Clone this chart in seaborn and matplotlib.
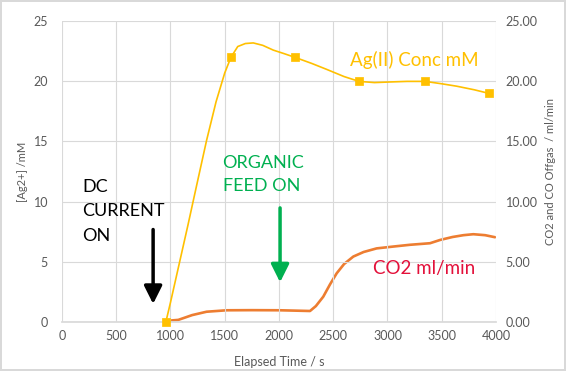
import pandas as pd
import seaborn as sns
import matplotlib.pyplot as plt

# Ag(II) sampled points (markers)
ag_time = [958, 1557, 2147, 2737, 3345, 3935]
ag_conc = [0.0, 22.0, 22.0, 20.0, 20.0, 19.0]

# Ag(II) smoothed line
ag_line_time = [958, 1000, 1080, 1160, 1240, 1333, 1420, 1500, 1557, 1620, 1690, 1763, 1850, 1948, 2050, 2147,
                2300, 2439, 2600, 2737, 2880, 3023, 3180, 3345, 3500, 3637, 3800, 3935]
ag_line_conc = [0.0, 1.6, 4.8, 8.0, 11.3, 15.1, 18.3, 20.7, 22.0, 22.9, 23.15, 23.2, 23.0, 22.6, 22.3, 22.0,
                21.5, 21.0, 20.4, 20.0, 19.9, 19.95, 20.0, 20.0, 19.8, 19.6, 19.3, 19.0]

# CO2 offgas, ml/min
co2_time = [950, 1072, 1200, 1333, 1518, 1750, 2008, 2150, 2286, 2340, 2408, 2470, 2532, 2600, 2685, 2780,
            2900, 3050, 3207, 3392, 3484, 3600, 3700, 3791, 3900, 3991]
co2_flow = [0.06, 0.15, 0.55, 0.83, 0.95, 0.96, 0.95, 0.92, 0.89, 1.3, 2.08, 3.1, 4.03, 4.8, 5.42, 5.8,
            6.1, 6.25, 6.4, 6.53, 6.8, 7.05, 7.2, 7.28, 7.2, 7.03]

x_ticks = [0, 500, 1000, 1500, 2000, 2500, 3000, 3500, 4000]
y_ticks = [0, 5, 10, 15, 20, 25]

ag_color = '#FFC000'
co2_color = '#ED7D31'
txt_gray = '#595959'
grid_gray = '#D9D9D9'

sns.set_theme(style='white')
plt.rcParams['font.family'] = ['Lato', 'DejaVu Sans']

df_pts = pd.DataFrame({'t': ag_time, 'ag': ag_conc})
df_line = pd.DataFrame({'t': ag_line_time, 'ag': ag_line_conc})
df_co2 = pd.DataFrame({'t': co2_time, 'co2': co2_flow})

fig = plt.figure(figsize=(5.66, 3.71), dpi=100)
fig.patch.set_edgecolor('#D9D9D9')
fig.patch.set_linewidth(1.5)
ax = fig.add_axes([0.1095, 0.1329, 0.7668, 0.8097])
ax2 = ax.twinx()

# CO2 on secondary axis (drawn beneath)
sns.lineplot(data=df_co2, x='t', y='co2', ax=ax2, color=co2_color, linewidth=1.9)
sns.lineplot(data=df_line, x='t', y='ag', ax=ax, color=ag_color, linewidth=1.2)
sns.scatterplot(data=df_pts, x='t', y='ag', ax=ax, color=ag_color, marker='s', s=40,
                edgecolor=ag_color, zorder=5, clip_on=False)

ax.set_zorder(ax2.get_zorder() + 1)
ax.patch.set_visible(False)

for a in (ax, ax2):
    a.set_xlim(0, 4000)
    a.set_ylim(0, 25)
    for s in a.spines.values():
        s.set_visible(False)
    a.tick_params(length=0, labelsize=9, labelcolor=txt_gray)

ax.spines['bottom'].set_visible(True)
ax.spines['bottom'].set_color(grid_gray)
ax.set_xticks(x_ticks)
ax.set_yticks(y_ticks)
ax2.set_yticks(y_ticks)
ax2.set_yticklabels([f'{v:.2f}' for v in y_ticks])
ax.grid(True, color=grid_gray, linewidth=0.8)
ax.tick_params(axis='x', pad=6)
ax.tick_params(axis='y', pad=10)
ax2.tick_params(axis='y', pad=7)

ax.set_xlabel('Elapsed Time / s', fontsize=9, color=txt_gray, labelpad=10)
ax.set_ylabel('[Ag2+] /mM', fontsize=8, color=txt_gray, labelpad=4)
ax2.set_ylabel('CO2 and CO Offgas  / ml/min', fontsize=8, color=txt_gray, labelpad=5)

# annotations
ax.text(3244, 21.8, 'Ag(II) Conc mM', color=ag_color, fontsize=13.5, ha='center', va='center')
ax.text(3340, 4.4, 'CO2 ml/min', color='#E3103A', fontsize=13.5, ha='center', va='center')
ax.text(190, 9.2, 'DC\nCURRENT\nON', color='black', fontsize=13, ha='left', va='center', linespacing=1.65)
ax.text(1480, 12.25, 'ORGANIC\nFEED ON', color='#00B050', fontsize=13, ha='left', va='center', linespacing=1.6)

ax.annotate('', xy=(840, 1.25), xytext=(840, 7.9),
            arrowprops=dict(arrowstyle='-|>,head_width=0.45,head_length=0.9', color='black', lw=2.5))
ax.annotate('', xy=(2010, 3.05), xytext=(2010, 9.7),
            arrowprops=dict(arrowstyle='-|>,head_width=0.45,head_length=0.9', color='#00B050', lw=2.5))

fig.savefig('out.png', dpi=100)
